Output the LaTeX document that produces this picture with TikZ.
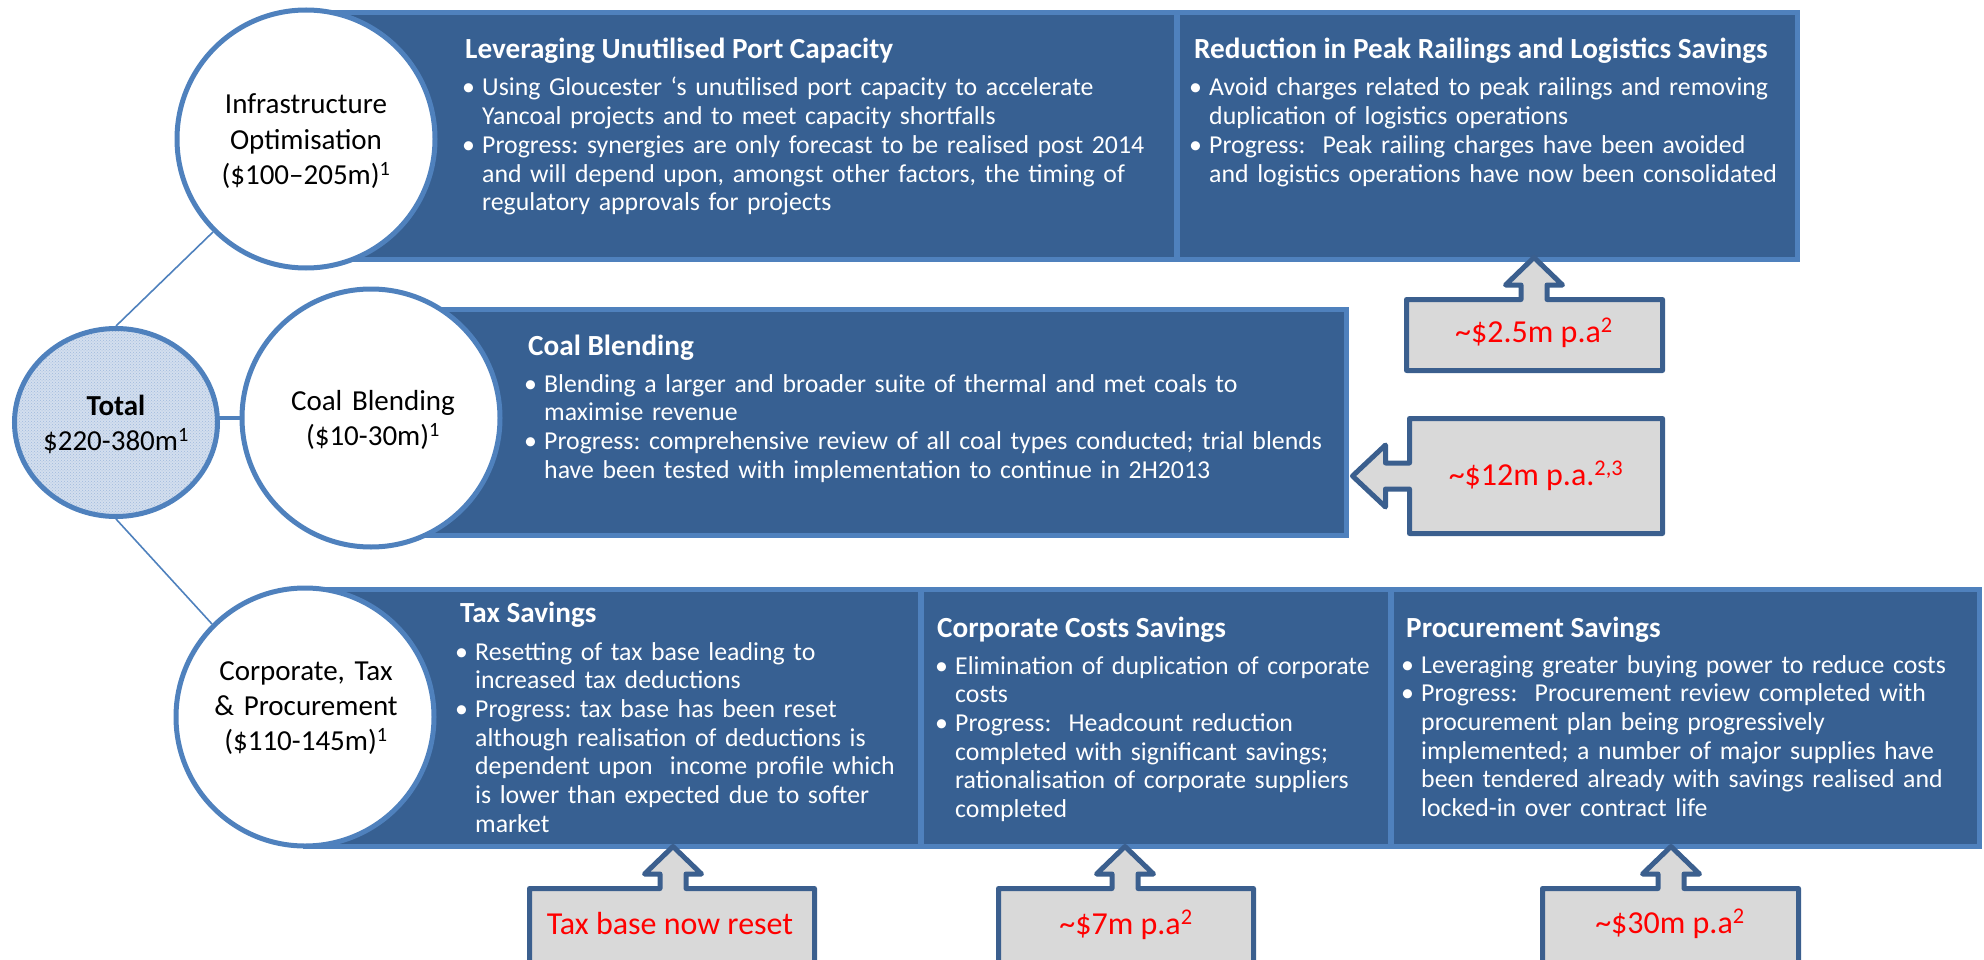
\documentclass[tikz,border=0pt]{standalone}
\usepackage{fontspec}
\setmainfont{Carlito}
\usetikzlibrary{shapes.geometric,patterns}
\frenchspacing

\definecolor{boxfill}{HTML}{376092}
\definecolor{boxline}{HTML}{4F81BD}
\definecolor{callfill}{HTML}{D9D9D9}
\definecolor{callline}{HTML}{3B5F8E}
\definecolor{totfill}{HTML}{D3DEEE}
\definecolor{totdots}{HTML}{9FBADC}
\definecolor{callred}{HTML}{FF0000}

% bullet paragraph with hanging indent
\newcommand\blt[1]{\hangindent=20pt\hangafter=1\makebox[20pt][l]{\textbullet}#1\par}

% grey callout box with an upward arrow: left, top, right, bottom, arrow x
\newcommand\upcallout[5]{%
  \path[callout] (#1,#4) -- (#1,#2) -- ({#5-13},#2) -- ({#5-13},{#2-14.5})
    -- ({#5-28.5},{#2-14.5}) -- (#5,{#2-42}) -- ({#5+28.5},{#2-14.5})
    -- ({#5+13},{#2-14.5}) -- ({#5+13},#2) -- (#3,#2) -- (#3,#4) -- cycle;}

\begin{document}
\begin{tikzpicture}[x=1pt,y=-1pt,
  panel/.style={draw=boxline, line width=5pt, fill=boxfill},
  divider/.style={draw=boxline, line width=6pt},
  hub/.style={circle, draw=boxline, line width=5pt, fill=white,
    minimum size=258pt, inner sep=0pt},
  tothub/.style={ellipse, draw=boxline, line width=5pt,
    preaction={fill=totfill}, pattern=crosshatch dots, pattern color=totdots,
    minimum width=203pt, minimum height=188pt, inner sep=0pt},
  link/.style={draw=boxline, line width=1.6pt},
  hublabel/.style={text width=270pt, align=center, anchor=base, inner sep=0pt,
    font=\fontsize{29}{35.3}\selectfont},
  paneltitle/.style={anchor=base west, inner sep=0pt, text=white,
    font=\fontsize{29.2}{34}\selectfont\bfseries},
  bullets/.style={anchor=base west, inner sep=0pt, text=white, text width=950pt,
    align=left, font=\fontsize{25.8}{28.7}\selectfont},
  callout/.style={draw=callline, line width=5pt, fill=callfill, line join=round},
  calltext/.style={anchor=base, inner sep=0pt, text=callred,
    font=\fontsize{32}{38}\selectfont}
]
\useasboundingbox (0,0) rectangle (1984,960);
\clip (0,0) rectangle (1984,960);

% three panels
\path[panel] (306,12.5) rectangle (1797.5,259.5);
\draw[divider] (1177,12.5) -- (1177,259.5);
\path[panel] (371,309.5) rectangle (1346.5,535.5);
\path[panel] (305,589.5) rectangle (1979.5,846.5);
\draw[divider] (921,589.5) -- (921,846.5);
\draw[divider] (1391,589.5) -- (1391,846.5);

% panel texts
\node[paneltitle] (t1) at (465,59) {Leveraging Unutilised Port Capacity};
\node[bullets] (b1) at (462,96) {%
  \blt{Using Gloucester ‘s unutilised port capacity to accelerate\newline Yancoal projects and to meet capacity shortfalls}%
  \blt{Progress: synergies are only forecast to be realised post 2014\newline and will depend upon, amongst other factors, the timing of\newline regulatory approvals for projects}};

\node[paneltitle] (t2) at (1194,59) {Reduction in Peak Railings and Logistics Savings};
\node[bullets] (b2) at (1189,96) {%
  \blt{Avoid charges related to peak railings and removing\newline duplication of logistics operations}%
  \blt{Progress:\ \ Peak railing charges have been avoided\newline and logistics operations have now been consolidated}};

\node[paneltitle] (t3) at (528,355) {Coal Blending};
\node[bullets] (b3) at (524,392) {%
  \blt{Blending a larger and broader suite of thermal and met coals to\newline maximise revenue}%
  \blt{Progress: comprehensive review of all coal types conducted; trial blends\newline have been tested with implementation to continue in 2H2013}};

\node[paneltitle] (t4) at (460,622) {Tax Savings};
\node[bullets] (b4) at (455,660) {%
  \blt{Resetting of tax base leading to\newline increased tax deductions}%
  \blt{Progress: tax base has been reset\newline although realisation of deductions is\newline dependent upon\ \ income profile which\newline is lower than expected due to softer\newline market}};

\node[paneltitle] (t5) at (937,637) {Corporate Costs Savings};
\node[bullets] (b5) at (935,674) {%
  \blt{Elimination of duplication of corporate\newline costs}%
  \blt{Progress:\ \ Headcount reduction\newline completed with significant savings;\newline rationalisation of corporate suppliers\newline completed}};

\node[paneltitle] (t6) at (1406,637) {Procurement Savings};
\node[bullets] (b6) at (1401,673) {%
  \blt{Leveraging greater buying power to reduce costs}%
  \blt{Progress:\ \ Procurement review completed with\newline procurement plan being progressively\newline implemented; a number of major supplies have\newline been tendered already with savings realised and\newline locked-in over contract life}};

% hubs
\node[hub] (infra) at (306,139) {};
\node[hub] (coal) at (371,418) {};
\node[hub] (corp) at (305,717) {};
\node[tothub] (total) at (116,422.5) {};

% connectors
\draw[link] (total.north) -- (infra.south west);
\draw[link] (total.south) -- (corp.north west);
\draw[link, line width=4pt] (coal.west -| total.east) -- (coal.west);

% hub labels
\node[hublabel] (infraT) at (306,114) {Infrastructure\\Optimisation\\(\$100–205m)\textsuperscript{1}};
\node[hublabel] (coalT) at (373,410) {Coal Blending\\(\$10-30m)\textsuperscript{1}};
\node[hublabel] (corpT) at (306,680) {Corporate, Tax\\\& Procurement\\(\$110-145m)\textsuperscript{1}};
\node[hublabel, text width=200pt] (totalT) at (116,415) {\textbf{Total}\\\$220-380m\textsuperscript{1}};

% callouts
\upcallout{1406.5}{299.5}{1662.5}{370.5}{1534}
\node[calltext] (c1) at (1534,342) {\textasciitilde\$2.5m p.a\textsuperscript{2}};

\path[callout] (1662.5,418.5) -- (1409.5,418.5) -- (1409.5,463) -- (1385.5,463)
  -- (1385.5,445) -- (1352.5,476) -- (1385.5,507) -- (1385.5,489)
  -- (1409.5,489) -- (1409.5,533.5) -- (1662.5,533.5) -- cycle;
\node[calltext] (c2) at (1536,485) {\textasciitilde\$12m p.a.\textsuperscript{2,3}};

\upcallout{529.5}{888.5}{814.5}{1000}{673}
\node[calltext] (c3) at (670,934) {Tax base now reset};

\upcallout{998.5}{888.5}{1253.5}{1000}{1125}
\node[calltext] (c4) at (1126,934) {\textasciitilde\$7m p.a\textsuperscript{2}};

\upcallout{1542.5}{888.5}{1798.5}{1000}{1671}
\node[calltext] (c5) at (1670,933) {\textasciitilde\$30m p.a\textsuperscript{2}};

\end{tikzpicture}
\end{document}
